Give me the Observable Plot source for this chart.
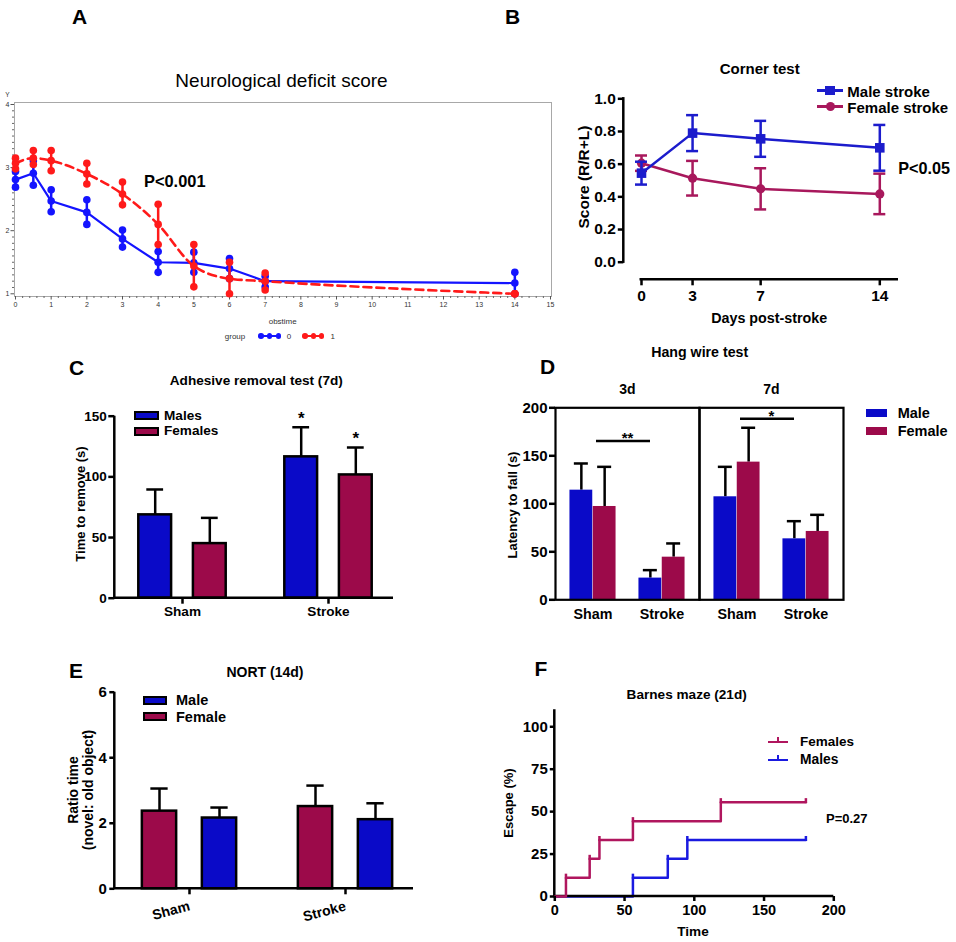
<!DOCTYPE html>
<html><head><meta charset="utf-8">
<script src="https://cdn.jsdelivr.net/npm/d3@7"></script>
<script src="https://cdn.jsdelivr.net/npm/@observablehq/plot@0.6"></script>
<style>
html,body{margin:0;padding:0;background:#fff}
#fig{position:relative;width:956px;height:942px;overflow:hidden;background:#fff;font-family:"Liberation Sans",Arial,Helvetica,sans-serif;color:#000}
.t{position:absolute;white-space:nowrap;line-height:1}
.bx{position:absolute;box-sizing:border-box}
</style></head><body><div id="fig"></div>
<script>
// ---------- Panel A: Neurological deficit score ----------
const aTimes = [0, 0.5, 1, 2, 3, 4, 5, 6, 7, 14];
const aBlueMean  = [2.81, 2.91, 2.47, 2.29, 1.87, 1.50, 1.49, 1.40, 1.20, 1.17];
const aBlueUpper = [2.94, 3.11, 2.65, 2.49, 2.01, 1.67, 1.66, 1.56, 1.28, 1.34];
const aBlueLower = [2.69, 2.72, 2.30, 2.10, 1.74, 1.34, 1.34, 1.24, 1.11, 1.00];
const aRedMean   = [3.07, 3.15, 3.11, 2.90, 2.58, 2.10, 1.44, 1.24, 1.20, 1.00];
const aRedUpper  = [3.15, 3.27, 3.27, 3.07, 2.77, 2.42, 1.78, 1.50, 1.33, 1.00];
const aRedLower  = [2.98, 3.05, 2.95, 2.74, 2.41, 1.78, 1.11, 1.00, 1.06, 1.00];
const aXTicks = [0,1,2,3,4,5,6,7,8,9,10,11,12,13,14,15];
const aYTicks = [1, 2, 3, 4];

// ---------- Panel B: Corner test ----------
const bDays = [0, 3, 7, 14];
const bMaleMean   = [0.545, 0.790, 0.755, 0.700];
const bMaleSE     = [0.070, 0.110, 0.110, 0.140];
const bFemaleMean = [0.606, 0.514, 0.449, 0.418];
const bFemaleSE   = [0.047, 0.106, 0.126, 0.124];
const bYTicks = [0, 0.2, 0.4, 0.6, 0.8, 1.0];

// ---------- Panel C: Adhesive removal test (7d) ----------
const cGroups = ["Sham", "Stroke"];
const cMalesMean = [68.7, 116.5];
const cMalesErr  = [20.9, 24.4];
const cMalesStar = ["", "*"];
const cFemalesMean = [45.0, 101.6];
const cFemalesErr  = [21.2, 22.6];
const cFemalesStar = ["", "*"];
const cYTicks = [0, 50, 100, 150];

// ---------- Panel D: Hang wire test ----------
const dDays = ["3d", "7d"];
const dGroups = ["Sham", "Stroke"];
const dMale3dMean = [114.2, 22.6],  dMale3dErr = [27.8, 8.3];
const dFemale3dMean = [97.2, 44.4], dFemale3dErr = [41.3, 14.3];
const dMale7dMean = [107.3, 63.5],  dMale7dErr = [31.2, 18.4];
const dFemale7dMean = [143.4, 71.2], dFemale7dErr = [35.8, 17.3];
const dSigDays = ["3d", "7d"];
const dSigY = [165.3, 188.5];
const dSigLabel = ["**", "*"];
const dYTicks = [0, 50, 100, 150, 200];

// ---------- Panel E: NORT (14d) ----------
const eGroups = ["Sham", "Stroke"];
const eFemaleMean = [2.37, 2.51], eFemaleErr = [0.69, 0.64];
const eMaleMean = [2.16, 2.11],   eMaleErr = [0.32, 0.50];
const eYTicks = [0, 2, 4, 6];

// ---------- Panel F: Barnes maze (21d) ----------
const fFemT = [0, 8, 25, 32, 56, 119, 180];
const fFemV = [0, 11.1, 22.2, 33.3, 44.4, 55.6, 55.6];
const fMaleT = [0, 56, 81, 95, 180];
const fMaleV = [0, 11.1, 22.2, 33.3, 33.3];
const fYTicks = [0, 25, 50, 75, 100];
const fXTicks = [0, 50, 100, 150, 200];

// ---------- styling ----------
const FONT = '"Liberation Sans", Arial, Helvetica, sans-serif';
const BLUE = "#0a0ac8", MAROON = "#9c0a4a";
const A_BLUE = "#1414ff", A_RED = "#ff1a1a";
const B_BLUE = "#1c1ccc", B_FEM = "#a8185c";
const F_BLUE = "#1a1ae0", F_FEM = "#b0165e";
const fig = document.getElementById("fig");
const at = (left, top) => ({position: "absolute", left: left + "px", top: top + "px", fontFamily: FONT, overflow: "visible", background: "transparent", maxWidth: "none"});

function txt(s, x, y, {size = 14, weight = "bold", anchor = "middle", rotate = 0, color = "#000", lh = 1} = {}) {
  const d = document.createElement("div");
  d.className = "t";
  if (Array.isArray(s)) d.innerHTML = s.map(e => `<div style="text-align:center">${e}</div>`).join("");
  else d.textContent = s;
  Object.assign(d.style, {left: x + "px", top: y + "px", fontSize: size + "px", fontWeight: weight, color, lineHeight: lh});
  const tx = anchor === "start" ? "0%" : anchor === "end" ? "-100%" : "-50%";
  d.style.transform = `translate(${tx},-50%)` + (rotate ? ` rotate(${rotate}deg)` : "");
  fig.appendChild(d);
}
function box(x, y, w, h, fill, extra = {}) {
  const d = document.createElement("div");
  d.className = "bx";
  Object.assign(d.style, {left: x + "px", top: y + "px", width: w + "px", height: h + "px", background: fill}, extra);
  fig.appendChild(d);
}
// left + bottom axis lines along the frame edges
const frameAxes = (sw = 2.5) => (index, scales, values, {width, height, marginLeft, marginRight, marginTop, marginBottom}) => {
  const g = d3.create("svg:g").attr("stroke", "#000").attr("stroke-width", sw).attr("fill", "none");
  g.append("path").attr("d", `M${marginLeft},${marginTop}V${height - marginBottom}H${width - marginRight}`);
  return g.node();
};
function barSeries(rows, {fill, dx, barInset, capInset, outline = true, fx}) {
  const o = fx ? {fx} : {};
  return [
    Plot.ruleX(rows, {x: "group", y1: "mean", y2: "top", dx, stroke: "#000", strokeWidth: 2.5, ...o}),
    Plot.tickY(rows, {x: "group", y: "top", dx, insetLeft: capInset, insetRight: capInset, stroke: "#000", strokeWidth: 2.5, ...o}),
    Plot.barY(rows, {x: "group", y: "mean", dx, insetLeft: barInset, insetRight: barInset, fill, stroke: outline ? "#000" : "none", strokeWidth: 2.5, ...o})
  ];
}
const bold = (size) => ({fontSize: size, fontWeight: "bold", strokeWidth: 2.5, label: null});

// ================= Panel A =================
const aRows = (mean, up, lo) => aTimes.map((t, i) => ({t, mean: mean[i], up: up[i], lo: lo[i]}));
const aBlue = aRows(aBlueMean, aBlueUpper, aBlueLower);
const aRed = aRows(aRedMean, aRedUpper, aRedLower);
const aPts = rows => rows.flatMap(d => [{t: d.t, v: d.lo}, {t: d.t, v: d.mean}, {t: d.t, v: d.up}]);
const aMinorX = d3.range(1, 75).filter(k => k % 5 !== 0).map(k => k / 5);
const aMinorY = d3.range(10, 41).filter(k => k % 10 !== 0).map(k => k / 10);
fig.appendChild(Plot.plot({
  width: 556, height: 215, marginLeft: 14, marginTop: 7, marginRight: 5, marginBottom: 14,
  style: at(0, 95),
  x: {domain: [0, 15], range: [15, 550]},
  y: {domain: [1, 4], range: [198.3, 9]},
  marks: [
    Plot.frame({stroke: "#a8a8a8", strokeWidth: 1}),
    Plot.axisX(aMinorX, {tickSize: 2, tickFormat: () => "", stroke: "#666", label: null}),
    Plot.axisX(aXTicks, {tickSize: 3.5, tickPadding: 2, fontSize: 7, tickFormat: d3.format("d"), stroke: "#555", fill: "#333", label: null}),
    Plot.axisY(aMinorY, {tickSize: 2, tickFormat: () => "", stroke: "#666", label: null}),
    Plot.axisY(aYTicks, {tickSize: 3.5, tickPadding: 1.5, fontSize: 7, tickFormat: d3.format("d"), stroke: "#555", fill: "#333", label: null}),
    Plot.ruleX(aBlue, {x: "t", y1: "lo", y2: "up", stroke: A_BLUE, strokeWidth: 2.5}),
    Plot.line(aBlue, {x: "t", y: "mean", stroke: A_BLUE, strokeWidth: 2.2}),
    Plot.dot(aPts(aBlue), {x: "t", y: "v", r: 3.8, fill: A_BLUE}),
    Plot.ruleX(aRed, {x: "t", y1: "lo", y2: "up", stroke: A_RED, strokeWidth: 2.5}),
    Plot.line(aRed, {x: "t", y: "mean", stroke: A_RED, strokeWidth: 2.6, strokeDasharray: "8,5", curve: "monotone-x"}),
    Plot.dot(aPts(aRed), {x: "t", y: "v", r: 3.8, fill: A_RED})
  ]
}));

// ================= Panel B =================
const bRows = (mean, se) => bDays.map((d, i) => ({d, m: mean[i], lo: mean[i] - se[i], hi: mean[i] + se[i]}));
const bMale = bRows(bMaleMean, bMaleSE), bFemale = bRows(bFemaleMean, bFemaleSE);
const bSeries = (rows, color, symbol, r) => [
  Plot.ruleX(rows, {x: "d", y1: "lo", y2: "hi", stroke: color, strokeWidth: 2.5}),
  Plot.ruleY(rows, {y: "lo", x1: "d", x2: "d", insetLeft: -6, insetRight: -6, stroke: color, strokeWidth: 2.5}),
  Plot.ruleY(rows, {y: "hi", x1: "d", x2: "d", insetLeft: -6, insetRight: -6, stroke: color, strokeWidth: 2.5}),
  Plot.line(rows, {x: "d", y: "m", stroke: color, strokeWidth: 2.5}),
  Plot.dot(rows, {x: "d", y: "m", symbol, r, fill: color})
];
fig.appendChild(Plot.plot({
  width: 340, height: 225, marginLeft: 63.3, marginTop: 10, marginRight: 2, marginBottom: 25.7,
  style: at(560, 80),
  x: {domain: [0, 14], range: [81, 319.3]},
  y: {domain: [0, 1], range: [181.7, 18.3]},
  marks: [
    (index, {x, y}, values, {width, height, marginLeft, marginRight, marginBottom}) => {
      const g = d3.create("svg:g").attr("stroke", "#000").attr("stroke-width", 2.5);
      g.append("line").attr("x1", marginLeft).attr("x2", marginLeft).attr("y1", y(0) + 1.2).attr("y2", y(1) - 1.2);
      g.append("line").attr("x1", x(0) - 1.5).attr("x2", width - marginRight).attr("y1", height - marginBottom).attr("y2", height - marginBottom);
      return g.node();
    },
    Plot.axisY(bYTicks, {tickSize: 5.5, tickPadding: 2.5, tickFormat: d3.format(".1f"), ...bold(15.5)}),
    Plot.axisX(bDays, {tickSize: 6, tickPadding: 4, ...bold(15.5)}),
    ...bSeries(bFemale, B_FEM, "circle", 4.6),
    ...bSeries(bMale, B_BLUE, "square", 5.4)
  ]
}));

// ================= Panel C =================
const cRows = (mean, err, star) => cGroups.map((g, i) => ({group: g, mean: mean[i], top: mean[i] + err[i], star: star[i]}));
const cMales = cRows(cMalesMean, cMalesErr, cMalesStar), cFemales = cRows(cFemalesMean, cFemalesErr, cFemalesStar);
fig.appendChild(Plot.plot({
  width: 345, height: 230, marginLeft: 54.3, marginTop: 20.7, marginRight: 12, marginBottom: 27.3,
  style: at(60, 395),
  x: {domain: cGroups, range: [49.2, 341.6], paddingInner: 0, paddingOuter: 0},
  y: {domain: [0, 150]},
  marks: [
    ...barSeries(cMales, {fill: BLUE, dx: -27.3, barInset: 56.6, capInset: 64.6}),
    ...barSeries(cFemales, {fill: MAROON, dx: 27.3, barInset: 56.6, capInset: 64.6}),
    Plot.text(cMales.filter(d => d.star), {x: "group", y: "top", text: "star", dx: -27.3, dy: -9, fontSize: 17, fontWeight: "bold"}),
    Plot.text(cFemales.filter(d => d.star), {x: "group", y: "top", text: "star", dx: 27.3, dy: -9, fontSize: 17, fontWeight: "bold"}),
    frameAxes(),
    Plot.axisY(cYTicks, {tickSize: 6, tickPadding: 2, ...bold(13.5)}),
    Plot.axisX({tickSize: 6, tickPadding: 2, ...bold(13.6)})
  ]
}));

// ================= Panel D =================
const dRows = (day, mean, err) => dGroups.map((g, i) => ({day, group: g, mean: mean[i], top: mean[i] + err[i]}));
const dMale = [...dRows("3d", dMale3dMean, dMale3dErr), ...dRows("7d", dMale7dMean, dMale7dErr)];
const dFemale = [...dRows("3d", dFemale3dMean, dFemale3dErr), ...dRows("7d", dFemale7dMean, dFemale7dErr)];
const dSig = dSigDays.map((day, i) => ({day, y: dSigY[i], label: dSigLabel[i], from: dGroups[0], to: dGroups[1]}));
fig.appendChild(Plot.plot({
  width: 380, height: 260, marginLeft: 74, marginTop: 37.3, marginRight: 16.7, marginBottom: 30.7,
  style: at(480, 370),
  fx: {domain: dDays, padding: 0},
  x: {domain: dGroups, paddingInner: 0, paddingOuter: 0.043},
  y: {domain: [0, 200]},
  marks: [
    ...barSeries(dMale, {fill: BLUE, dx: -11.65, barInset: 23.1, capInset: 27.5, outline: false, fx: "day"}),
    ...barSeries(dFemale, {fill: MAROON, dx: 11.65, barInset: 23.1, capInset: 27.5, outline: false, fx: "day"}),
    Plot.ruleY(dSig, {fx: "day", y: "y", x1: "from", x2: "to", insetLeft: 38, insetRight: 46, stroke: "#000", strokeWidth: 2.5}),
    Plot.text(dSig, {fx: "day", y: "y", text: "label", dy: -3, fontSize: 15, fontWeight: "bold"}),
    Plot.frame({stroke: "#000", strokeWidth: 2.2}),
    Plot.axisY(dYTicks, {tickSize: 6, tickPadding: 2, ...bold(15)}),
    Plot.axisX({tickSize: 0, tickPadding: 9, ...bold(14.3)}),
    Plot.axisFx({anchor: "top", tickSize: 0, tickPadding: 14, ...bold(14)})
  ]
}));

// ================= Panel E =================
const eRows = (mean, err) => eGroups.map((g, i) => ({group: g, mean: mean[i], top: mean[i] + err[i]}));
const eFemale = eRows(eFemaleMean, eFemaleErr), eMale = eRows(eMaleMean, eMaleErr);
fig.appendChild(Plot.plot({
  width: 360, height: 255, marginLeft: 54.3, marginTop: 11.7, marginRight: 7, marginBottom: 46.7,
  style: at(60, 680),
  x: {domain: eGroups, range: [49.95, 363.35], paddingInner: 0, paddingOuter: 0},
  y: {domain: [0, 6]},
  marks: [
    ...barSeries(eFemale, {fill: MAROON, dx: -30, barInset: 60.85, capInset: 69.35}),
    ...barSeries(eMale, {fill: BLUE, dx: 30, barInset: 60.85, capInset: 69.35}),
    frameAxes(),
    Plot.axisY(eYTicks, {tickSize: 5, tickPadding: 3, ...bold(15)}),
    Plot.axisX({tickSize: 6, tickPadding: 11, tickRotate: -15, ...bold(14)})
  ]
}));

// ================= Panel F =================
const fFem = fFemT.map((t, i) => ({t, v: fFemV[i]}));
const fMale = fMaleT.map((t, i) => ({t, v: fMaleV[i]}));
const upTick = {draw(ctx, size) { const r = Math.sqrt(size / Math.PI); ctx.moveTo(0, 1); ctx.lineTo(0, -r); }};
fig.appendChild(Plot.plot({
  width: 345, height: 220, marginLeft: 54.3, marginTop: 9.3, marginRight: 11.7, marginBottom: 24,
  style: at(500, 700),
  x: {domain: [0, 200]},
  y: {domain: [0, 110]},
  marks: [
    Plot.line(fMale, {x: "t", y: "v", curve: "step-after", stroke: F_BLUE, strokeWidth: 2.5}),
    Plot.dot(fMale.filter(d => d.t > 0), {x: "t", y: "v", symbol: upTick, r: 4, stroke: F_BLUE, fill: "none", strokeWidth: 2.5}),
    frameAxes(),
    Plot.line(fFem, {x: "t", y: "v", curve: "step-after", stroke: F_FEM, strokeWidth: 2.5}),
    Plot.dot(fFem.filter(d => d.t > 0), {x: "t", y: "v", symbol: upTick, r: 4, stroke: F_FEM, fill: "none", strokeWidth: 2.5}),
    Plot.axisY(fYTicks, {tickSize: 4.5, tickPadding: 2.5, ...bold(15)}),
    Plot.axisX(fXTicks, {tickSize: 5, tickPadding: 3, ...bold(14.5)})
  ]
}));

// ================= Text, legends, labels =================
// panel letters
txt("A", 79.5, 16, {size: 21});
txt("B", 512.5, 16, {size: 21});
txt("C", 76.5, 367, {size: 21});
txt("D", 547.5, 366, {size: 21});
txt("E", 76, 670, {size: 21});
txt("F", 541, 668, {size: 21});

// A
txt("Neurological deficit score", 281.5, 79.5, {size: 19, weight: "normal"});
txt("P<0.001", 144, 180.7, {size: 16.4, anchor: "start"});
txt("Y", 7.5, 95, {size: 6.5, weight: "normal", color: "#333"});
txt("obstime", 282.7, 322.3, {size: 8, weight: "normal", color: "#333"});
txt("group", 235, 337, {size: 8, weight: "normal", color: "#333"});
box(261, 335, 17.3, 2, A_BLUE);
[261, 269.7, 278.3].forEach(x => box(x - 2.8, 333.2, 5.6, 5.6, A_BLUE, {borderRadius: "50%"}));
txt("0", 289, 337, {size: 8, weight: "normal", color: "#333"});
box(305, 335, 16.7, 2, A_RED);
[305, 313.3, 321.7].forEach(x => box(x - 2.8, 333.2, 5.6, 5.6, A_RED, {borderRadius: "50%"}));
txt("1", 332.7, 337, {size: 8, weight: "normal", color: "#333"});

// B
txt("Corner test", 759.7, 68.3, {size: 15});
box(816.7, 89.4, 26.6, 2.6, B_BLUE);
box(825.3, 86, 9.4, 9.4, B_BLUE);
txt("Male stroke", 847.3, 90.7, {size: 15, anchor: "start"});
box(816.7, 105.4, 26.6, 2.6, B_FEM);
box(825.8, 102.2, 9, 9, B_FEM, {borderRadius: "50%"});
txt("Female stroke", 847.3, 106.7, {size: 15, anchor: "start"});
txt("Score (R/R+L)", 583.5, 176.7, {size: 15.5, rotate: -90});
txt("Days post-stroke", 769.2, 318.3, {size: 14.3});
txt("P<0.05", 898.3, 168.3, {size: 16.2, anchor: "start"});

// C
txt("Adhesive removal test (7d)", 256.3, 380.7, {size: 13.6});
box(134, 411, 24.7, 9.3, BLUE, {border: "2px solid #000"});
txt("Males", 164, 415.7, {size: 13.6, anchor: "start"});
box(134, 426.5, 24.7, 9.3, MAROON, {border: "2px solid #000"});
txt("Females", 164, 431, {size: 13.6, anchor: "start"});
txt("Time to remove (s)", 80, 504, {size: 13, rotate: -90});

// D
txt("Hang wire test", 699.7, 351.7, {size: 14.2});
box(866, 409.3, 20.7, 8, BLUE);
txt("Male", 897.7, 413.3, {size: 14.5, anchor: "start"});
box(866, 427, 20.7, 8, MAROON);
txt("Female", 897.7, 431, {size: 14.5, anchor: "start"});
txt("Latency to fall (s)", 511.7, 505, {size: 13, rotate: -90});

// E
txt("NORT (14d)", 265, 671.7, {size: 14});
box(143, 695.5, 24, 9, BLUE, {border: "2px solid #000"});
txt("Male", 176, 700, {size: 14.5, anchor: "start"});
box(143, 712, 24, 9, MAROON, {border: "2px solid #000"});
txt("Female", 176, 716.7, {size: 14.5, anchor: "start"});
txt(["Ratio time", "(novel: old object)"], 80.5, 790, {size: 14, rotate: -90, lh: 1.1});

// F
txt("Barnes maze (21d)", 686.7, 695, {size: 13.6});
box(768, 740.5, 20, 2.5, F_FEM);
box(776.8, 737, 2.5, 4, F_FEM);
txt("Females", 800, 741.7, {size: 13.5, anchor: "start"});
box(768, 758.8, 20, 2.5, F_BLUE);
box(776.8, 755.3, 2.5, 4, F_BLUE);
txt("Males", 800, 760, {size: 13.8, anchor: "start"});
txt("P=0.27", 826, 817.7, {size: 13, anchor: "start"});
txt("Time", 693, 932, {size: 13.6});
txt("Escape (%)", 508, 803, {size: 13, rotate: -90});
</script></body></html>
